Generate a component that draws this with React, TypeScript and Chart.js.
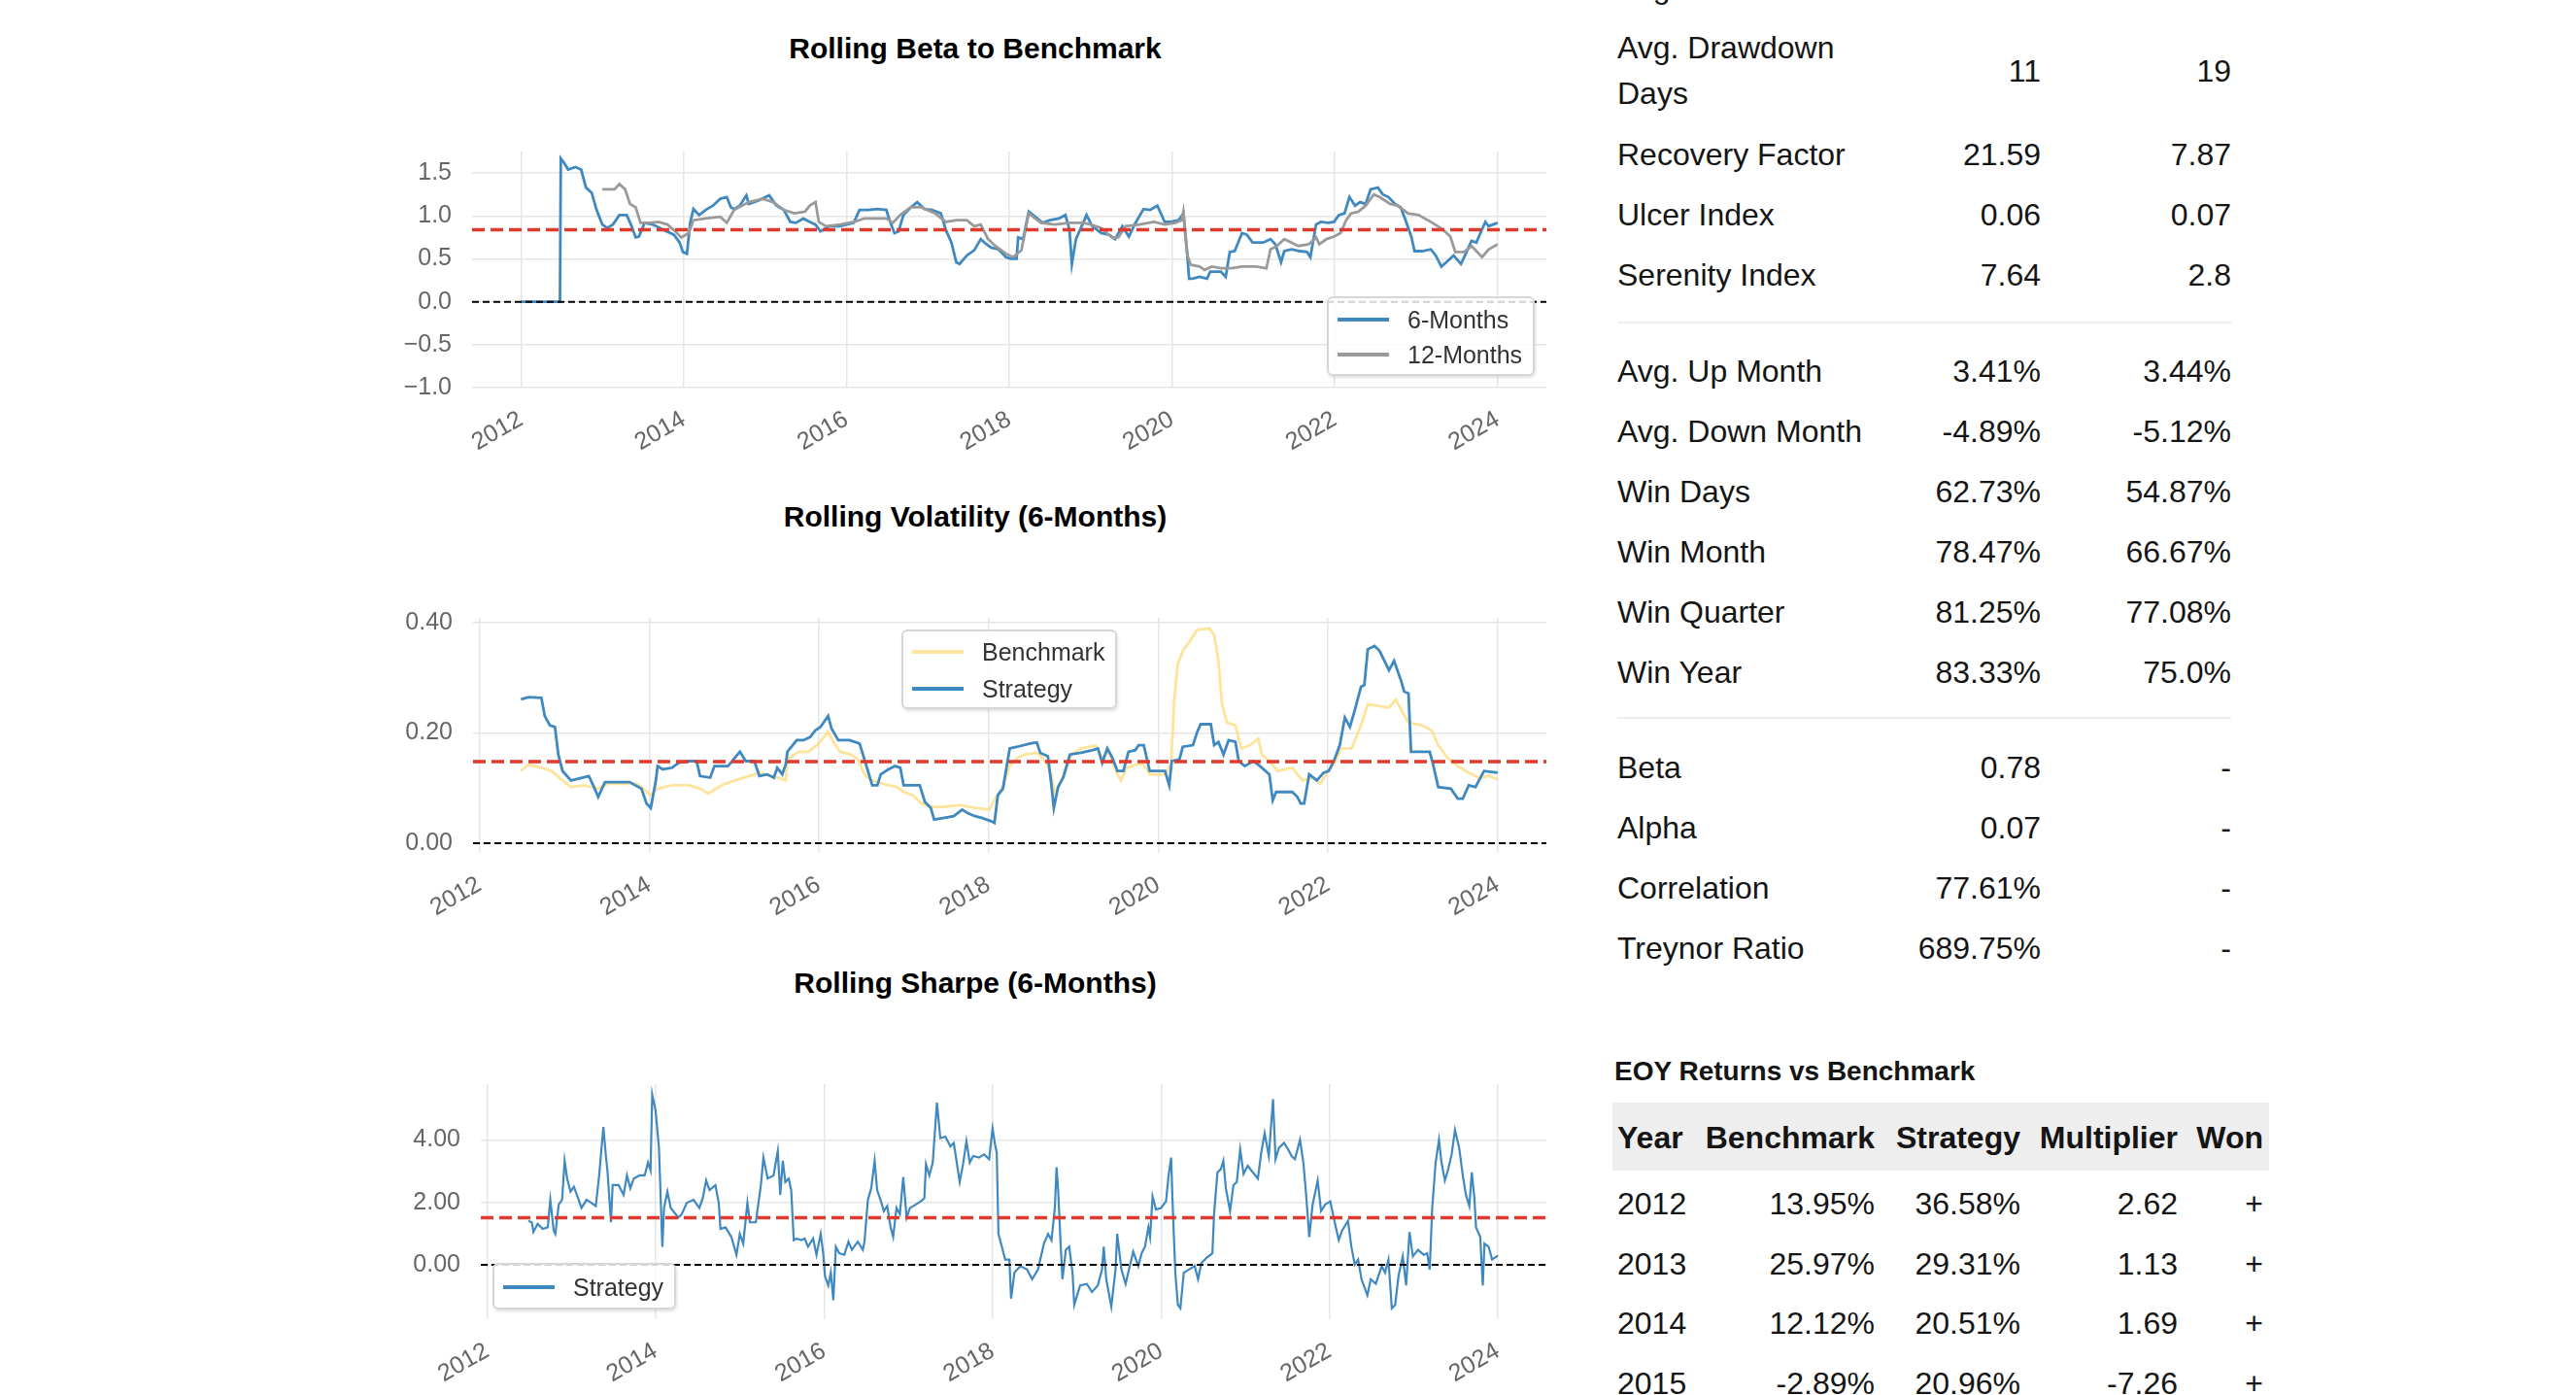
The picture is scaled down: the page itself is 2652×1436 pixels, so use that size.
import React, { useEffect, useRef } from "react";
import { Chart, registerables } from "chart.js";
Chart.register(...registerables);

// ---------------- DATA ----------------
const yearTicks = [2012, 2014, 2016, 2018, 2020, 2022, 2024];

// Rolling beta, 6 months
const beta6Dates = [2012.0,2012.48,2012.49,2012.53,2012.58,2012.67,2012.74,2012.8,2012.87,2012.93,2013.0,2013.06,2013.13,2013.21,2013.3,2013.36,2013.41,2013.45,2013.52,2013.62,2013.75,2013.88,2013.95,2013.99,2014.04,2014.08,2014.12,2014.19,2014.27,2014.36,2014.45,2014.53,2014.58,2014.62,2014.69,2014.77,2014.8,2014.92,2015.05,2015.14,2015.23,2015.31,2015.38,2015.47,2015.55,2015.62,2015.68,2015.79,2015.92,2016.0,2016.09,2016.16,2016.27,2016.38,2016.49,2016.53,2016.59,2016.64,2016.7,2016.79,2016.87,2016.96,2017.05,2017.16,2017.22,2017.29,2017.35,2017.39,2017.48,2017.57,2017.65,2017.72,2017.78,2017.87,2017.96,2018.02,2018.09,2018.11,2018.17,2018.24,2018.32,2018.41,2018.5,2018.61,2018.69,2018.74,2018.77,2018.82,2018.89,2018.95,2019.02,2019.13,2019.23,2019.3,2019.39,2019.47,2019.54,2019.65,2019.73,2019.82,2019.91,2019.99,2020.08,2020.14,2020.19,2020.21,2020.25,2020.34,2020.43,2020.47,2020.6,2020.66,2020.71,2020.77,2020.86,2020.92,2020.99,2021.12,2021.21,2021.27,2021.34,2021.38,2021.47,2021.57,2021.66,2021.7,2021.77,2021.83,2021.92,2021.99,2022.05,2022.12,2022.18,2022.25,2022.31,2022.38,2022.44,2022.53,2022.59,2022.66,2022.74,2022.81,2022.87,2022.94,2022.98,2023.07,2023.18,2023.24,2023.31,2023.37,2023.46,2023.55,2023.61,2023.68,2023.74,2023.78,2023.85,2023.89,2024.0];
const beta6Values = [0,0,1.67,1.62,1.54,1.57,1.54,1.33,1.27,1.07,0.9,0.86,0.9,1.01,1.01,0.88,0.75,0.76,0.92,0.9,0.84,0.78,0.69,0.58,0.56,0.92,1.08,1.01,1.07,1.12,1.2,1.22,1.1,1.08,1.12,1.24,1.14,1.18,1.24,1.12,1.07,0.93,0.92,0.97,0.93,0.9,0.82,0.88,0.88,0.9,0.92,1.07,1.07,1.08,1.07,0.95,0.8,0.82,1.01,1.1,1.16,1.08,1.07,1.03,0.84,0.69,0.46,0.44,0.54,0.6,0.73,0.67,0.63,0.61,0.52,0.5,0.5,0.75,0.73,1.05,0.99,0.92,0.95,0.97,1.01,0.84,0.44,0.73,0.88,1.01,0.88,0.8,0.78,0.73,0.88,0.76,0.9,1.08,1.07,1.12,0.93,0.93,0.95,1.03,0.52,0.27,0.27,0.29,0.27,0.35,0.35,0.29,0.58,0.59,0.8,0.78,0.69,0.69,0.73,0.67,0.46,0.59,0.61,0.59,0.58,0.52,0.9,0.93,0.92,0.93,1.01,1.03,1.22,1.12,1.16,1.14,1.31,1.33,1.25,1.22,1.14,1.1,0.95,0.76,0.59,0.59,0.61,0.54,0.41,0.46,0.54,0.44,0.56,0.71,0.69,0.78,0.93,0.88,0.92];

// Rolling beta, 12 months
const beta12Dates = [2013.0,2013.15,2013.21,2013.28,2013.34,2013.41,2013.47,2013.58,2013.69,2013.8,2013.9,2013.97,2014.06,2014.12,2014.27,2014.45,2014.53,2014.62,2014.8,2014.97,2015.1,2015.23,2015.36,2015.49,2015.55,2015.62,2015.66,2015.75,2015.92,2016.09,2016.22,2016.35,2016.49,2016.57,2016.66,2016.79,2016.92,2017.09,2017.22,2017.35,2017.48,2017.57,2017.65,2017.74,2017.83,2017.96,2018.05,2018.15,2018.24,2018.39,2018.56,2018.74,2018.91,2019.0,2019.13,2019.26,2019.34,2019.43,2019.6,2019.78,2019.91,2020.04,2020.12,2020.14,2020.19,2020.23,2020.34,2020.4,2020.49,2020.6,2020.73,2020.86,2021.03,2021.16,2021.21,2021.29,2021.38,2021.47,2021.55,2021.68,2021.77,2021.81,2021.9,2021.99,2022.07,2022.14,2022.2,2022.29,2022.38,2022.48,2022.55,2022.68,2022.77,2022.9,2023.03,2023.2,2023.33,2023.42,2023.48,2023.59,2023.68,2023.81,2023.89,2024.0];
const beta12Values = [1.31,1.31,1.37,1.31,1.14,1.1,0.92,0.92,0.93,0.9,0.82,0.75,0.8,0.95,0.97,0.99,0.92,1.07,1.16,1.2,1.16,1.07,1.03,1.05,1.12,1.16,0.93,0.88,0.9,0.93,0.97,0.97,0.97,0.92,1.01,1.1,1.1,1.03,0.93,0.95,0.95,0.88,0.9,0.73,0.65,0.56,0.52,0.6,1.03,0.92,0.9,0.92,0.92,0.9,0.86,0.75,0.75,0.88,0.9,0.93,0.9,0.92,0.95,1.05,0.54,0.43,0.41,0.37,0.41,0.39,0.39,0.41,0.41,0.39,0.61,0.65,0.73,0.69,0.65,0.67,0.75,0.67,0.73,0.76,0.8,0.95,1.03,1.05,1.12,1.25,1.22,1.14,1.12,1.03,1.01,0.92,0.84,0.76,0.58,0.58,0.65,0.52,0.61,0.67];
const betaMean = 0.84;

// Rolling volatility (6 months)
const volStrategyDates = [2012.49,2012.58,2012.73,2012.77,2012.83,2012.89,2012.93,2012.98,2013.08,2013.14,2013.29,2013.35,2013.4,2013.48,2013.6,2013.77,2013.91,2013.97,2014.02,2014.08,2014.1,2014.16,2014.27,2014.35,2014.47,2014.56,2014.6,2014.72,2014.77,2014.93,2015.01,2015.07,2015.14,2015.24,2015.3,2015.39,2015.47,2015.51,2015.57,2015.61,2015.63,2015.74,2015.82,2015.9,2015.96,2016.02,2016.11,2016.15,2016.23,2016.36,2016.42,2016.48,2016.55,2016.63,2016.69,2016.73,2016.82,2016.9,2016.96,2017.0,2017.19,2017.25,2017.32,2017.36,2017.48,2017.59,2017.69,2017.75,2017.84,2017.92,2018.03,2018.07,2018.11,2018.17,2018.25,2018.34,2018.49,2018.57,2018.61,2018.7,2018.74,2018.77,2018.82,2018.88,2018.96,2019.09,2019.23,2019.29,2019.34,2019.4,2019.46,2019.52,2019.59,2019.65,2019.73,2019.77,2019.83,2019.9,2020.08,2020.13,2020.16,2020.25,2020.29,2020.41,2020.46,2020.5,2020.62,2020.66,2020.71,2020.77,2020.83,2020.91,2020.95,2021.02,2021.12,2021.2,2021.31,2021.35,2021.39,2021.58,2021.64,2021.68,2021.72,2021.78,2021.87,2021.95,2022.01,2022.07,2022.14,2022.2,2022.26,2022.32,2022.39,2022.43,2022.47,2022.55,2022.61,2022.72,2022.78,2022.86,2022.9,2022.95,2022.98,2023.2,2023.24,2023.3,2023.45,2023.53,2023.59,2023.66,2023.74,2023.84,2024.0];
const volStrategyValues = [0.261,0.265,0.264,0.231,0.214,0.211,0.161,0.131,0.114,0.116,0.122,0.102,0.084,0.111,0.111,0.111,0.099,0.072,0.064,0.114,0.14,0.134,0.137,0.146,0.149,0.149,0.122,0.119,0.14,0.14,0.155,0.166,0.149,0.149,0.122,0.125,0.119,0.137,0.125,0.143,0.166,0.187,0.187,0.193,0.205,0.211,0.231,0.208,0.187,0.187,0.184,0.181,0.146,0.105,0.105,0.125,0.134,0.14,0.137,0.105,0.105,0.075,0.064,0.043,0.046,0.049,0.061,0.055,0.049,0.046,0.04,0.037,0.087,0.099,0.172,0.175,0.181,0.183,0.164,0.158,0.108,0.064,0.102,0.119,0.161,0.164,0.169,0.172,0.146,0.172,0.155,0.131,0.131,0.166,0.169,0.178,0.178,0.131,0.131,0.105,0.149,0.152,0.175,0.178,0.202,0.216,0.216,0.178,0.184,0.161,0.187,0.184,0.149,0.14,0.149,0.14,0.125,0.078,0.093,0.093,0.084,0.072,0.072,0.125,0.114,0.128,0.131,0.149,0.178,0.228,0.211,0.243,0.284,0.287,0.352,0.358,0.349,0.314,0.331,0.296,0.275,0.272,0.166,0.166,0.143,0.102,0.099,0.081,0.081,0.105,0.102,0.131,0.128];
const volBenchmarkDates = [2012.49,2012.58,2012.73,2012.85,2012.98,2013.08,2013.23,2013.39,2013.52,2013.68,2013.85,2013.93,2014.02,2014.1,2014.27,2014.47,2014.6,2014.7,2014.85,2015.01,2015.18,2015.3,2015.43,2015.51,2015.61,2015.63,2015.76,2015.88,2016.0,2016.11,2016.17,2016.25,2016.38,2016.46,2016.55,2016.63,2016.75,2016.92,2017.0,2017.11,2017.21,2017.34,2017.46,2017.67,2017.84,2018.01,2018.09,2018.17,2018.25,2018.34,2018.43,2018.57,2018.67,2018.74,2018.78,2018.88,2018.98,2019.09,2019.26,2019.34,2019.42,2019.5,2019.56,2019.63,2019.75,2019.83,2019.9,2020.08,2020.15,2020.19,2020.23,2020.29,2020.37,2020.46,2020.6,2020.66,2020.71,2020.75,2020.81,2020.91,2020.98,2021.08,2021.18,2021.22,2021.31,2021.41,2021.58,2021.7,2021.83,2021.91,2021.99,2022.07,2022.16,2022.28,2022.39,2022.47,2022.61,2022.72,2022.8,2022.86,2022.95,2023.11,2023.22,2023.3,2023.41,2023.53,2023.66,2023.78,2023.9,2024.0];
const volBenchmarkValues = [0.131,0.143,0.137,0.131,0.114,0.102,0.105,0.099,0.108,0.108,0.108,0.099,0.087,0.099,0.105,0.105,0.099,0.09,0.105,0.114,0.122,0.128,0.122,0.119,0.114,0.152,0.166,0.166,0.181,0.202,0.184,0.166,0.161,0.152,0.122,0.114,0.108,0.102,0.093,0.087,0.072,0.066,0.066,0.069,0.064,0.061,0.084,0.102,0.14,0.155,0.161,0.164,0.149,0.125,0.09,0.119,0.161,0.172,0.177,0.155,0.166,0.131,0.114,0.137,0.143,0.143,0.125,0.125,0.143,0.261,0.325,0.349,0.366,0.387,0.39,0.378,0.331,0.255,0.219,0.214,0.172,0.178,0.19,0.161,0.149,0.131,0.137,0.114,0.119,0.108,0.128,0.143,0.172,0.172,0.214,0.252,0.249,0.246,0.261,0.243,0.219,0.214,0.205,0.178,0.155,0.14,0.128,0.119,0.122,0.116];
const volMean = 0.148;

// Rolling Sharpe (6 months)
const sharpeDates = [2012.49,2012.53,2012.55,2012.6,2012.66,2012.72,2012.75,2012.79,2012.81,2012.85,2012.89,2012.92,2012.95,2012.99,2013.03,2013.08,2013.12,2013.18,2013.24,2013.29,2013.33,2013.38,2013.41,2013.43,2013.47,2013.49,2013.56,2013.62,2013.66,2013.7,2013.74,2013.81,2013.87,2013.91,2013.94,2013.96,2014.0,2014.04,2014.08,2014.1,2014.14,2014.18,2014.27,2014.31,2014.37,2014.45,2014.52,2014.56,2014.6,2014.64,2014.71,2014.75,2014.77,2014.83,2014.9,2014.96,2015.0,2015.04,2015.09,2015.12,2015.19,2015.25,2015.28,2015.33,2015.4,2015.45,2015.48,2015.51,2015.54,2015.58,2015.61,2015.64,2015.67,2015.73,2015.77,2015.81,2015.87,2015.91,2015.96,2015.99,2016.01,2016.05,2016.08,2016.11,2016.14,2016.18,2016.24,2016.29,2016.33,2016.4,2016.46,2016.48,2016.52,2016.56,2016.6,2016.63,2016.67,2016.71,2016.75,2016.79,2016.82,2016.86,2016.9,2016.94,2016.98,2017.02,2017.09,2017.15,2017.19,2017.21,2017.25,2017.29,2017.34,2017.38,2017.44,2017.5,2017.54,2017.61,2017.65,2017.69,2017.73,2017.77,2017.84,2017.9,2017.96,2018.0,2018.03,2018.05,2018.07,2018.11,2018.15,2018.2,2018.22,2018.26,2018.33,2018.41,2018.47,2018.54,2018.61,2018.66,2018.7,2018.74,2018.76,2018.78,2018.81,2018.83,2018.87,2018.91,2018.95,2018.97,2019.04,2019.12,2019.18,2019.25,2019.3,2019.32,2019.35,2019.41,2019.46,2019.48,2019.53,2019.58,2019.62,2019.67,2019.73,2019.77,2019.81,2019.85,2019.87,2019.9,2019.94,2020.0,2020.06,2020.09,2020.12,2020.14,2020.17,2020.2,2020.23,2020.27,2020.33,2020.4,2020.44,2020.48,2020.54,2020.61,2020.63,2020.67,2020.71,2020.74,2020.77,2020.82,2020.86,2020.9,2020.94,2020.98,2021.03,2021.09,2021.15,2021.19,2021.23,2021.28,2021.33,2021.36,2021.4,2021.46,2021.51,2021.55,2021.59,2021.65,2021.69,2021.72,2021.76,2021.8,2021.86,2021.9,2021.95,2022.01,2022.05,2022.11,2022.15,2022.22,2022.26,2022.3,2022.34,2022.38,2022.45,2022.49,2022.55,2022.62,2022.66,2022.7,2022.74,2022.78,2022.82,2022.87,2022.91,2022.95,2022.99,2023.05,2023.12,2023.16,2023.19,2023.22,2023.26,2023.3,2023.33,2023.37,2023.41,2023.45,2023.49,2023.54,2023.58,2023.62,2023.66,2023.69,2023.72,2023.74,2023.79,2023.82,2023.84,2023.89,2023.93,2024.0];
const sharpeValues = [1.41,1.36,1.05,1.31,1.15,1.2,2.08,1.1,0.99,1.93,2.08,3.33,2.76,2.34,2.5,2.13,1.82,2.08,1.98,1.88,2.86,4.41,3.48,2.96,1.36,2.55,2.55,2.24,2.86,2.45,2.76,2.86,2.86,3.27,3.02,5.45,4.93,3.74,0.58,1.82,2.34,1.82,1.51,1.62,1.98,2.08,1.82,2.13,2.7,2.39,2.55,1.98,1.15,1.2,0.89,0.32,0.99,0.68,1.98,1.36,1.36,2.55,3.43,2.76,2.86,3.64,2.24,3.33,2.65,2.76,2.39,0.79,0.84,0.79,0.84,0.58,0.84,0.32,0.99,0.37,-0.35,-0.66,-0.25,-1.13,0.58,0.37,0.32,0.74,0.48,0.74,0.48,0.74,2.08,2.45,3.33,2.39,2.08,1.72,1.88,1.2,0.89,1.82,1.62,2.81,1.51,1.82,1.93,2.03,2.13,3.22,2.86,3.27,5.19,4.05,4.1,3.79,3.9,2.65,3.22,3.95,3.27,3.48,3.43,3.53,3.38,4.36,3.84,3.59,0.99,0.58,0.17,0.17,-1.08,-0.25,-0.04,-0.15,-0.46,-0.15,0.68,0.99,0.79,1.82,3.12,2.34,0.58,-0.46,0.48,0.58,-0.25,-1.28,-0.66,-0.61,-0.87,-0.66,-0.15,0.58,-0.46,-1.34,-0.15,0.99,-0.15,-0.61,-0.15,0.42,-0.04,0.37,0.58,1.2,0.89,2.19,1.77,1.82,2.03,2.86,3.43,1.82,-0.25,-1.28,-1.39,-0.25,-0.15,-0.04,-0.46,0.06,0.22,0.37,1.62,2.96,3.06,3.33,2.45,1.72,2.55,2.65,3.69,2.91,3.17,2.96,2.76,3.59,4.21,3.48,5.3,3.38,3.74,3.9,3.69,3.48,3.38,4.0,3.27,2.34,0.89,1.93,2.7,1.72,1.93,2.03,1.51,0.79,1.1,1.41,0.58,0.01,0.17,-0.46,-0.97,-0.46,-0.61,-0.04,-0.25,0.17,-1.39,-1.28,-0.35,0.27,-0.66,1.05,0.27,0.48,0.32,0.37,-0.15,1.82,3.27,4.0,3.27,2.7,3.06,3.53,4.31,3.74,2.91,2.24,1.88,2.96,2.13,1.2,0.89,-0.66,0.68,0.58,0.17,0.29];
const sharpeMean = 1.51;

// Metrics table (the row above "Avg. Drawdown Days" is cut off at the top edge)
const cutOffLabel = "Avg. Drawdown";
const metricGroups = [
  ["Avg. Drawdown Days", "Recovery Factor", "Ulcer Index", "Serenity Index"],
  ["Avg. Up Month", "Avg. Down Month", "Win Days", "Win Month", "Win Quarter", "Win Year"],
  ["Beta", "Alpha", "Correlation", "Treynor Ratio"],
];
const metricStrategy = [
  ["11", "21.59", "0.06", "7.64"],
  ["3.41%", "-4.89%", "62.73%", "78.47%", "81.25%", "83.33%"],
  ["0.78", "0.07", "77.61%", "689.75%"],
];
const metricBenchmark = [
  ["19", "7.87", "0.07", "2.8"],
  ["3.44%", "-5.12%", "54.87%", "66.67%", "77.08%", "75.0%"],
  ["-", "-", "-", "-"],
];

// EOY table
const eoyHeaders = ["Year", "Benchmark", "Strategy", "Multiplier", "Won"];
const eoyYears = ["2012", "2013", "2014", "2015"];
const eoyBenchmark = ["13.95%", "25.97%", "12.12%", "-2.89%"];
const eoyStrategy = ["36.58%", "29.31%", "20.51%", "20.96%"];
const eoyMultiplier = ["2.62", "1.13", "1.69", "-7.26"];
const eoyWon = ["+", "+", "+", "+"];

// ---------------- STYLE ----------------
const FONT = "'Liberation Sans', Arial, Helvetica, sans-serif";
const BLUE = "#3f88c0";
const GRAY = "#9a9a9a";
const YELLOW = "rgba(253, 218, 120, 0.75)";
const RED = "#e0392e";
const GRID = "#e6e6e6";
const TICK = "#666666";
const TEXT = "#151515";

const pts = (xs: number[], ys: number[]) => xs.map((x, i) => ({ x, y: ys[i] }));
const hline = (v: number, min: number, max: number) => [{ x: min, y: v }, { x: max, y: v }];

type Cfg = {
  xMin: number; xMax: number; yMin: number; yMax: number; yTicks: number[];
  fmt: (v: number) => string; yw: number; xh: number; padTop: number; padRight: number;
  datasets: any[];
};

function buildConfig(c: Cfg): any {
  return {
    type: "line",
    data: { datasets: c.datasets },
    options: {
      animation: false,
      responsive: false,
      maintainAspectRatio: false,
      events: [],
      layout: { padding: { top: c.padTop, right: c.padRight, left: 0, bottom: 0 } },
      plugins: { legend: { display: false }, tooltip: { enabled: false }, title: { display: false } },
      elements: { point: { radius: 0 }, line: { tension: 0 } },
      scales: {
        x: {
          type: "linear",
          min: c.xMin,
          max: c.xMax,
          afterBuildTicks: (s: any) => { s.ticks = yearTicks.map((v) => ({ value: v })); },
          afterFit: (s: any) => { s.height = c.xh; s.paddingLeft = 0; s.paddingRight = 0; },
          grid: { color: GRID, lineWidth: 1.5, drawTicks: false },
          border: { display: false },
          ticks: {
            autoSkip: false, minRotation: 30, maxRotation: 30, padding: 18,
            color: TICK, font: { family: FONT, size: 25 },
            callback: (v: any) => String(v),
          },
        },
        y: {
          type: "linear",
          min: c.yMin,
          max: c.yMax,
          afterBuildTicks: (s: any) => { s.ticks = c.yTicks.map((v) => ({ value: v })); },
          afterFit: (s: any) => { s.width = c.yw; s.paddingTop = 0; s.paddingBottom = 0; },
          grid: { color: GRID, lineWidth: 1.5, drawTicks: false },
          border: { display: false },
          ticks: {
            padding: 21, color: TICK, font: { family: FONT, size: 25 },
            callback: (v: any) => c.fmt(Number(v)),
          },
        },
      },
    },
  };
}

function ChartBox(props: { left: number; top: number; width: number; height: number; cfg: Cfg }) {
  const ref = useRef<HTMLCanvasElement>(null);
  useEffect(() => {
    const chart = new Chart(ref.current as HTMLCanvasElement, buildConfig(props.cfg));
    return () => chart.destroy();
  }, []);
  return (
    <canvas
      ref={ref}
      width={props.width}
      height={props.height}
      style={{ position: "absolute", left: props.left, top: props.top, width: props.width, height: props.height }}
    />
  );
}

function Legend(props: { left: number; top: number; width: number; height: number; items: { label: string; color: string; y: number }[] }) {
  return (
    <div
      style={{
        position: "absolute", left: props.left, top: props.top, width: props.width, height: props.height,
        boxSizing: "border-box", border: "2px solid #d6d6d6", borderRadius: 6,
        background: "rgba(255,255,255,0.82)", boxShadow: "1px 2px 3px rgba(0,0,0,0.12)",
      }}
    >
      {props.items.map((it, i) => (
        <React.Fragment key={i}>
          <div style={{ position: "absolute", left: 9, top: it.y - 2, width: 53, height: 4, background: it.color }} />
          <div style={{ position: "absolute", left: 81, top: it.y - 16, height: 32, lineHeight: "32px", fontSize: 25, color: "#333", whiteSpace: "nowrap", fontFamily: FONT }}>
            {it.label}
          </div>
        </React.Fragment>
      ))}
    </div>
  );
}

const solid = (data: any[], color: string, width: number) => ({
  data, borderColor: color, borderWidth: width, fill: false, pointRadius: 0,
});
const dashed = (data: any[], color: string, width: number, dash: number[]) => ({
  data, borderColor: color, borderWidth: width, borderDash: dash, fill: false, pointRadius: 0,
});

export default function App() {
  const bx = [2011.4, 2024.6];
  const vx = [2011.925, 2024.575];

  const betaCfg: Cfg = {
    xMin: bx[0], xMax: bx[1], yMin: -1.0, yMax: 1.75, yTicks: [-1, -0.5, 0, 0.5, 1, 1.5],
    fmt: (v) => (v < 0 ? "\u2212" : "") + Math.abs(v).toFixed(1),
    yw: 110, xh: 90, padTop: 10, padRight: 10,
    datasets: [
      dashed(hline(betaMean, bx[0], bx[1]), RED, 3.5, [13, 6]),
      dashed(hline(0, bx[0], bx[1]), "#000", 2, [7, 4]),
      solid(pts(beta12Dates, beta12Values), GRAY, 2.8),
      solid(pts(beta6Dates, beta6Values), BLUE, 2.8),
    ],
  };
  const volCfg: Cfg = {
    xMin: vx[0], xMax: vx[1], yMin: -0.0176, yMax: 0.409, yTicks: [0, 0.2, 0.4],
    fmt: (v) => v.toFixed(2),
    yw: 110, xh: 90, padTop: 10, padRight: 10,
    datasets: [
      dashed(hline(volMean, vx[0], vx[1]), RED, 3.5, [13, 6]),
      dashed(hline(0, vx[0], vx[1]), "#000", 2, [7, 4]),
      solid(pts(volStrategyDates, volStrategyValues), BLUE, 2.8),
      solid(pts(volBenchmarkDates, volBenchmarkValues), YELLOW, 2.8),
    ],
  };
  const sharpeCfg: Cfg = {
    xMin: vx[0], xMax: vx[1], yMin: -1.74, yMax: 5.78, yTicks: [0, 2, 4],
    fmt: (v) => v.toFixed(2),
    yw: 110, xh: 78, padTop: 10, padRight: 10,
    datasets: [
      dashed(hline(sharpeMean, vx[0], vx[1]), RED, 3.5, [13, 6]),
      dashed(hline(0, vx[0], vx[1]), "#000", 2, [7, 4]),
      solid(pts(sharpeDates, sharpeValues), BLUE, 2.2),
    ],
  };

  const titleStyle = (cy: number): React.CSSProperties => ({
    position: "absolute", left: 704, width: 600, top: cy - 20, height: 40, lineHeight: "40px",
    textAlign: "center", fontWeight: "bold", fontSize: 30, color: "#000", fontFamily: FONT,
  });

  // metrics rows layout
  const groupStarts = [73, 382, 790];
  const rowStep = 62;
  const rows: JSX.Element[] = [];
  metricGroups.forEach((g, gi) => {
    g.forEach((label, ri) => {
      let cy = groupStarts[gi] + ri * rowStep;
      if (gi === 0 && ri > 0) cy = 159 + (ri - 1) * rowStep;
      const two = gi === 0 && ri === 0;
      const h = two ? 94 : 47;
      rows.push(
        <div key={gi + "-" + ri} style={{ position: "absolute", left: 1665, top: cy - h / 2, width: 632, height: h, fontSize: 32, color: TEXT }}>
          <div style={{ position: "absolute", left: 0, top: 0, width: 270, lineHeight: "47px" }}>{label}</div>
          <div style={{ position: "absolute", right: 196, top: h / 2 - 23.5, lineHeight: "47px", whiteSpace: "nowrap" }}>{metricStrategy[gi][ri]}</div>
          <div style={{ position: "absolute", right: 0, top: h / 2 - 23.5, lineHeight: "47px", whiteSpace: "nowrap" }}>{metricBenchmark[gi][ri]}</div>
        </div>
      );
    });
  });

  const eoyRights = [0, 1930, 2080, 2242, 2330];
  const eoyRowY = [1239, 1301, 1362, 1424];
  const eoyCols = [eoyYears, eoyBenchmark, eoyStrategy, eoyMultiplier, eoyWon];

  return (
    <div style={{ position: "absolute", left: 0, top: 0, width: 2652, height: 1436, overflow: "hidden", background: "#fff", fontFamily: FONT }}>
      <div style={titleStyle(50)}>Rolling Beta to Benchmark</div>
      <div style={titleStyle(532)}>Rolling Volatility (6-Months)</div>
      <div style={titleStyle(1012)}>Rolling Sharpe (6-Months)</div>

      <ChartBox left={376} top={146} width={1226} height={343} cfg={betaCfg} />
      <ChartBox left={377} top={626} width={1225} height={342} cfg={volCfg} />
      <ChartBox left={385} top={1106} width={1217} height={330} cfg={sharpeCfg} />

      <Legend left={1366} top={305} width={214} height={82}
        items={[{ label: "6-Months", color: BLUE, y: 22 }, { label: "12-Months", color: GRAY, y: 58 }]} />
      <Legend left={928} top={648} width={222} height={82}
        items={[{ label: "Benchmark", color: "#fde5a0", y: 21 }, { label: "Strategy", color: BLUE, y: 59 }]} />
      <Legend left={507} top={1300} width={189} height={48}
        items={[{ label: "Strategy", color: BLUE, y: 23 }]} />

      <div style={{ position: "absolute", left: 1665, top: -13 - 23.5, lineHeight: "47px", fontSize: 32, color: TEXT, whiteSpace: "nowrap" }}>{cutOffLabel}</div>
      {rows}
      <div style={{ position: "absolute", left: 1665, top: 331, width: 632, height: 2, background: "#eeeeee" }} />
      <div style={{ position: "absolute", left: 1665, top: 738, width: 632, height: 2, background: "#eeeeee" }} />

      <div style={{ position: "absolute", left: 1662, top: 1103 - 18, height: 36, lineHeight: "36px", fontSize: 28, fontWeight: "bold", color: TEXT, whiteSpace: "nowrap" }}>
        EOY Returns vs Benchmark
      </div>
      <div style={{ position: "absolute", left: 1660, top: 1135, width: 676, height: 70, background: "#eeeeee" }} />
      {eoyHeaders.map((h, i) => (
        <div key={"h" + i} style={{
          position: "absolute", top: 1171 - 23.5, lineHeight: "47px", fontSize: 32, fontWeight: "bold", color: TEXT, whiteSpace: "nowrap",
          ...(i === 0 ? { left: 1665 } : { right: 2652 - eoyRights[i] }),
        }}>{h}</div>
      ))}
      {eoyRowY.map((cy, r) =>
        eoyCols.map((col, i) => (
          <div key={r + "-" + i} style={{
            position: "absolute", top: cy - 23.5, lineHeight: "47px", fontSize: 32, color: TEXT, whiteSpace: "nowrap",
            ...(i === 0 ? { left: 1665 } : { right: 2652 - eoyRights[i] }),
          }}>{col[r]}</div>
        ))
      )}
    </div>
  );
}
